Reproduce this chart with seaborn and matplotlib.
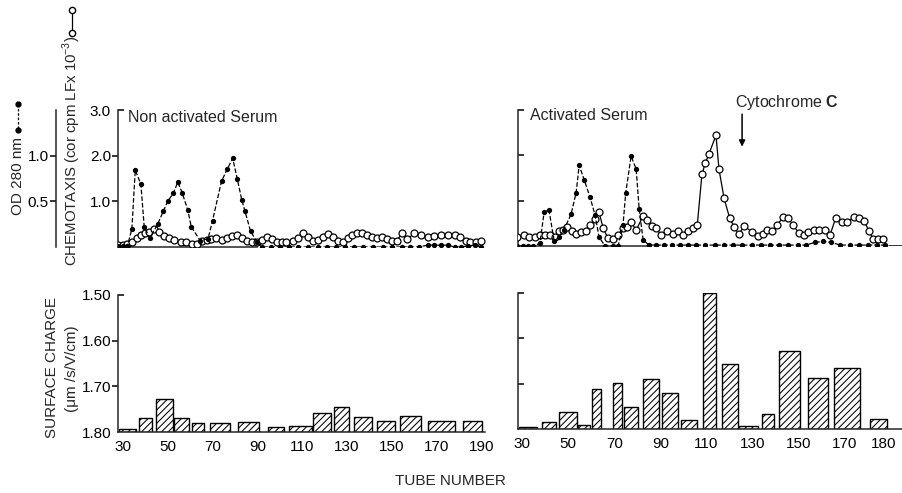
import matplotlib
matplotlib.use("Agg")
import matplotlib.pyplot as plt
import matplotlib.lines as mlines
from matplotlib.transforms import ScaledTranslation
import numpy as np
import seaborn as sns

###############################################################################
# Data
###############################################################################

# top left: non activated serum, chemotaxis (open circles)
chem_non_tube = [28, 30, 32, 34, 36.3, 38, 40, 41.6, 44, 46, 48.3, 50.6, 53, 56,
                 58, 60.8, 63, 65.3, 67.6, 69.3, 71.6, 74, 76.4, 78.7, 80.9, 83,
                 85.4, 87.6, 89.8, 92, 94.3, 96.5, 98.8, 101, 103, 106, 108,
                 110.4, 112.6, 114.9, 117, 119.3, 121.5, 123.8, 126, 128, 130.5,
                 132.3, 134.5, 136.7, 139, 141, 143.4, 145.7, 148, 150, 152.3,
                 154.5, 157, 160, 163, 166, 169, 172, 175, 178, 180.5, 183, 185,
                 187.5, 190]
chem_non_val = [0.05, 0.05, 0.07, 0.12, 0.2, 0.27, 0.3, 0.32, 0.4, 0.32, 0.24,
                0.2, 0.15, 0.12, 0.1, 0.07, 0.07, 0.13, 0.15, 0.18, 0.2, 0.15,
                0.2, 0.24, 0.26, 0.2, 0.13, 0.1, 0.12, 0.15, 0.22, 0.18, 0.12,
                0.1, 0.1, 0.13, 0.2, 0.3, 0.22, 0.14, 0.15, 0.22, 0.28, 0.22,
                0.14, 0.12, 0.19, 0.26, 0.3, 0.3, 0.26, 0.22, 0.19, 0.22, 0.17,
                0.14, 0.14, 0.3, 0.17, 0.3, 0.26, 0.22, 0.24, 0.26, 0.26, 0.26,
                0.22, 0.14, 0.1, 0.12, 0.14]

# top left: non activated serum, OD 280 nm (filled dots)
od_non_tube = [28, 30, 32, 34, 35.5, 38, 39.5, 42, 45.5, 48, 50, 52.5, 54.5,
               56.5, 59, 60.5, 64.5, 68, 70, 74, 76.5, 79, 81, 83, 84.5, 87, 90,
               92, 96, 100, 104, 108, 112.5, 117, 121, 125, 129, 133, 137, 141.5,
               146, 150, 154.5, 158, 162, 166, 169, 172, 175, 178, 181, 184, 187,
               190]
od_non_val = [0.01, 0.01, 0.01, 0.2, 0.84, 0.69, 0.22, 0.1, 0.25, 0.39, 0.5,
              0.59, 0.71, 0.59, 0.4, 0.22, 0.07, 0.09, 0.29, 0.72, 0.85, 0.97,
              0.75, 0.52, 0.39, 0.17, 0.05,
              0.0, 0.0, 0.0, 0.0, 0.0, 0.0, 0.0, 0.0, 0.0, 0.0, 0.0, 0.0, 0.0,
              0.0, 0.0, 0.0, 0.0, 0.0, 0.02, 0.02, 0.02, 0.02, 0.0, 0.0, 0.01,
              0.02, 0.0]

# top right: activated serum, chemotaxis (open circles)
chem_act_tube = [28, 31, 33, 35.7, 37.8, 40, 42.2, 44.3, 46, 47.8, 49.5, 51.7,
                 53.5, 55.6, 57.8, 59.5, 61.7, 63.4, 65.2, 67.3, 69.5, 71.6, 73.8,
                 75.5, 77.3, 79.5, 82.5, 84.2, 86.4, 88.1, 90.3, 92.9, 95.5, 97.7,
                 99.8, 102, 104, 106, 108, 109.4, 111.1, 114.1, 115.4, 117.6, 120,
                 122, 124, 126.3, 129.7, 132.3, 134.5, 136.2, 138.4, 140.6, 143.2,
                 145.3, 147.5, 150, 152.3, 154, 156.6, 158.8, 161.4, 163.5, 166,
                 168.7, 170.9, 174, 176, 178.3, 180.4, 182.2, 184.4, 186.5]
chem_act_val = [0.2, 0.24, 0.19, 0.19, 0.24, 0.24, 0.24, 0.19, 0.33, 0.36, 0.42,
                0.33, 0.26, 0.3, 0.33, 0.46, 0.59, 0.75, 0.39, 0.17, 0.15, 0.24,
                0.39, 0.42, 0.53, 0.35, 0.66, 0.57, 0.44, 0.4, 0.24, 0.33, 0.26,
                0.33, 0.24, 0.33, 0.4, 0.47, 1.58, 1.82, 2.04, 2.44, 1.69, 1.05,
                0.62, 0.42, 0.26, 0.44, 0.31, 0.22, 0.26, 0.35, 0.33, 0.46, 0.64,
                0.62, 0.46, 0.29, 0.24, 0.31, 0.35, 0.35, 0.35, 0.24, 0.62, 0.53,
                0.53, 0.64, 0.62, 0.55, 0.33, 0.15, 0.15, 0.15]

# top right: activated serum, OD 280 nm (filled dots)
od_act_tube = [28, 30.5, 32.6, 34.8, 37.8, 39.6, 41.7, 44, 46, 48.2, 51.3, 53.5,
               54.8, 57, 59.5, 61.7, 63.4, 66, 69.5, 71.7, 73.8, 75, 77.3, 79.5,
               80.8, 82.5, 85, 88, 91.5, 95, 98.5, 102, 105.5, 109.5, 113.5,
               117.5, 121.5, 125.5, 129.5, 133.5, 137.5, 141.5, 145.5, 149.5, 153,
               157, 160.5, 164, 168, 172, 176, 180, 184, 187.5]
od_act_val = [0.0, 0.0, 0.0, 0.0, 0.03, 0.37, 0.4, 0.05, 0.1, 0.18, 0.35, 0.59,
              0.89, 0.73, 0.54, 0.34, 0.1, 0.0, 0.0, 0.0, 0.23, 0.59, 0.99, 0.85,
              0.41, 0.07, 0.01, 0.01, 0.01, 0.01, 0.01, 0.01, 0.01, 0.01, 0.01,
              0.01, 0.01, 0.01, 0.01, 0.01, 0.01, 0.01, 0.01, 0.01, 0.01, 0.04,
              0.05, 0.04, 0.01, 0.01, 0.01, 0.01, 0.01, 0.01]

# bottom left: surface charge, non activated serum (tube ranges)
sc_non_left = [28.2, 37.2, 44.8, 53, 61, 68.9, 81.4, 94.8, 104.2, 114.9, 124.2,
               133.2, 143.4, 153.7, 166.2, 181.8]
sc_non_right = [35.8, 43, 52.4, 59.5, 66.2, 77.8, 90.7, 101.9, 114.4, 123, 131,
                141.2, 151.4, 163, 178.2, 190.3]
sc_non_val = [1.793, 1.77, 1.728, 1.77, 1.78, 1.78, 1.778, 1.79, 1.787, 1.758,
              1.745, 1.767, 1.775, 1.765, 1.775, 1.777]

# bottom right: surface charge, activated serum
sc_act_left = [28.7, 38.7, 46, 54.3, 60.4, 69.5, 74.2, 82.5, 90.7, 98.9, 108.5,
               116.7, 124.1, 134, 141.4, 154, 165.3, 180.9]
sc_act_right = [36.5, 44.8, 53.9, 59.5, 64.3, 73.4, 80.3, 89.4, 97.7, 105.9,
                114.1, 123.7, 132.3, 139.3, 150.5, 162.7, 176.5, 188.2]
sc_act_val = [1.795, 1.785, 1.762, 1.791, 1.712, 1.698, 1.751, 1.69, 1.72, 1.78,
              1.50, 1.657, 1.793, 1.767, 1.628, 1.687, 1.665, 1.778]

ticks_non = [30, 50, 70, 90, 110, 130, 150, 170, 190]
ticks_act = [30, 50, 70, 90, 110, 130, 150, 170, 180]

###############################################################################
# Helpers
###############################################################################

W, H = 902, 493


def box(x0, y0, x1, y1):
    """pixel box (top-left origin) -> figure fraction rect"""
    return [x0 / W, 1 - y1 / H, (x1 - x0) / W, (y1 - y0) / H]


def draw_chem(ax, tube, val):
    sns.lineplot(x=tube, y=val, ax=ax, color="k", linewidth=0.9, marker="o",
                 markersize=5, markerfacecolor="white", markeredgecolor="k",
                 markeredgewidth=0.9, sort=False, estimator=None, zorder=3)


def draw_od(ax, tube, val):
    sns.lineplot(x=tube, y=val, ax=ax, color="k", linewidth=0.9, linestyle="--",
                 dashes=(3, 2), marker="o", markersize=3.8, markeredgewidth=0,
                 sort=False, estimator=None, zorder=2)


def draw_bars(ax, left, right, val):
    left = np.array(left)
    width = np.array(right) - left
    height = np.array(val) - 1.80
    ax.bar(left, height, width=width, bottom=1.80, align="edge",
           facecolor="white", edgecolor="k", hatch="/////", linewidth=1.0)


###############################################################################
# Plot
###############################################################################

sns.set_style("ticks")
plt.rcParams["font.family"] = ["Liberation Sans", "DejaVu Sans"]
plt.rcParams["mathtext.fontset"] = "custom"
plt.rcParams["mathtext.rm"] = "Liberation Sans"
plt.rcParams["mathtext.bf"] = "Liberation Sans:bold"
plt.rcParams["hatch.linewidth"] = 0.75
plt.rcParams["axes.linewidth"] = 1.1

fs = 11
fig = plt.figure(figsize=(W / 100, H / 100), dpi=100)

ax_tl = fig.add_axes(box(118, 110, 485, 247))
ax_tr = fig.add_axes(box(518, 110, 902, 246))
ax_bl = fig.add_axes(box(118, 295, 485, 432))
ax_br = fig.add_axes(box(518, 293, 902, 429))

# OD axes share x with the chemotaxis panels, OD 1.0 == chemotaxis 2.0
od_tl = ax_tl.twinx()
od_tr = ax_tr.twinx()

draw_chem(ax_tl, chem_non_tube, chem_non_val)
draw_od(od_tl, od_non_tube, od_non_val)
draw_chem(ax_tr, chem_act_tube, chem_act_val)
draw_od(od_tr, od_act_tube, od_act_val)
draw_bars(ax_bl, sc_non_left, sc_non_right, sc_non_val)
draw_bars(ax_br, sc_act_left, sc_act_right, sc_act_val)

for ax in [ax_tl, ax_bl]:
    ax.set_xlim(27.8, 191.6)
for ax in [ax_tr, ax_br]:
    ax.set_xlim(28.3, 194.7)

for ax in [ax_tl, ax_tr, ax_bl, ax_br, od_tl, od_tr]:
    ax.set_xlabel("")
    ax.set_ylabel("")
    ax.spines["top"].set_visible(False)
    ax.spines["right"].set_visible(False)
    ax.tick_params(colors="k", labelsize=fs, width=1.1, length=4, pad=1)

# chemotaxis axes
for ax in [ax_tl, ax_tr]:
    ax.set_ylim(0, 3.0)
    ax.set_xticks([])
    ax.patch.set_alpha(0)
ax_tl.spines["bottom"].set_bounds(27.8, 90)
ax_tr.spines["bottom"].set_bounds(28.3, 84.5)
ax_tr.axhline(0, xmin=0.965, xmax=1.0, color="k", lw=1.1)

ax_tl.set_yticks([1, 2, 3], labels=["1.0", "2.0", "3.0"])
ax_tl.yaxis.get_major_ticks()[2].tick1line.set_marker(mlines.TICKRIGHT)
ax_tr.set_yticks([1, 2, 3], labels=["", "", ""])
ax_tr.tick_params(axis="y", direction="in")

# OD axes
for od in [od_tl, od_tr]:
    od.set_ylim(0, 1.5)
    od.spines["bottom"].set_visible(False)
    od.yaxis.tick_left()
od_tl.spines["left"].set_position(("outward", 45))
od_tl.set_yticks([0.5, 1.0], labels=["0.5", "1.0"])
od_tr.spines["left"].set_visible(False)
od_tr.set_yticks([])

# surface charge axes (inverted: 1.80 at the bottom)
for ax in [ax_bl, ax_br]:
    ax.set_ylim(1.80, 1.50)
    ax.tick_params(axis="x", length=0, pad=6)
ax_bl.set_xticks(ticks_non, labels=[str(t) for t in ticks_non])
ax_br.set_xticks(ticks_act, labels=[str(t) for t in ticks_act])
ax_bl.set_yticks([1.5, 1.6, 1.7, 1.8], labels=["1.50", "1.60", "1.70", "1.80"])
ax_bl.yaxis.get_major_ticks()[0].tick1line.set_marker(mlines.TICKRIGHT)
ax_bl.yaxis.get_major_ticks()[3].tick1line.set_visible(False)
ax_br.set_yticks([1.5, 1.6, 1.7], labels=["", "", ""])
ax_br.tick_params(axis="y", direction="in")

# the "180" label sits further right in the original drawing
lab = ax_br.xaxis.get_major_ticks()[-1].label1
lab.set_transform(lab.get_transform()
                  + ScaledTranslation(0.16, 0, fig.dpi_scale_trans))

# panel titles and annotation
ax_tl.text(32.3, 2.83, "Non activated Serum", fontsize=11.5, va="center")
ax_tr.text(33.5, 2.88, "Activated Serum", fontsize=11.5, va="center")
ax_tr.annotate("", xy=(125.4, 2.13), xytext=(125.4, 2.97),
               arrowprops=dict(arrowstyle="-|>", color="k", lw=1.1,
                               mutation_scale=9), annotation_clip=False)
ax_tr.text(122.4, 3.16, r"Cytochrome $\mathbf{C}$", fontsize=11.5,
           va="center", clip_on=False)

# axis labels
fig.text(450 / W, 1 - 481 / H, "TUBE NUMBER", ha="center", va="center",
         fontsize=fs)
fig.text(52 / W, 1 - 367 / H, "SURFACE CHARGE", rotation=90, ha="center",
         va="center", fontsize=fs)
fig.text(72 / W, 1 - 369 / H, "(μm /s/V/cm)", rotation=90, ha="center",
         va="center", fontsize=fs)
fig.text(72 / W, 1 - 151 / H, r"CHEMOTAXIS (cor cpm LFx 10$^{-3}$)",
         rotation=90, ha="center", va="center", fontsize=10.8)
fig.text(18 / W, 1 - 176 / H, "OD 280 nm", rotation=90, ha="center",
         va="center", fontsize=fs)

# little line keys next to the labels
fig.add_artist(mlines.Line2D([18 / W, 18 / W], [1 - 104 / H, 1 - 130 / H],
                             transform=fig.transFigure, color="k", lw=0.9,
                             ls="--", dashes=(2, 1.5), marker="o",
                             markersize=3.5))
fig.add_artist(mlines.Line2D([72 / W, 72 / W], [1 - 10 / H, 1 - 33 / H],
                             transform=fig.transFigure, color="k", lw=0.9,
                             marker="o", markersize=4.5, markerfacecolor="white",
                             markeredgecolor="k"))

fig.savefig("out.png", dpi=100)
